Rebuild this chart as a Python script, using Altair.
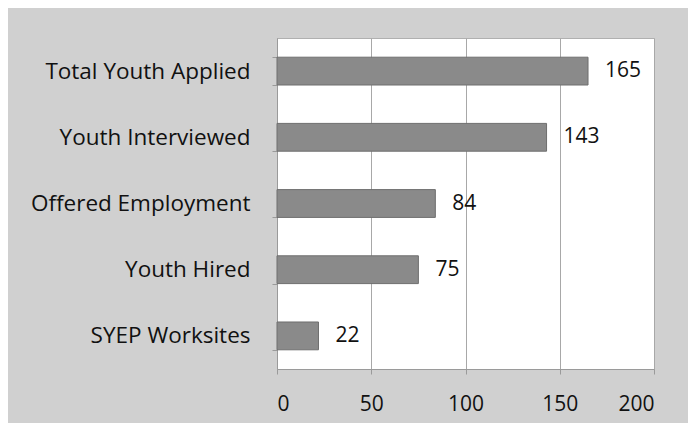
import altair as alt
import pandas as pd

categories = ["Total Youth Applied", "Youth Interviewed", "Offered Employment", "Youth Hired", "SYEP Worksites"]
values = [165, 143, 84, 75, 22]
x_ticks = [0, 50, 100, 150, 200]

df = pd.DataFrame({"category": categories, "value": values})

FONT = "Open Sans"

base = alt.Chart(df).encode(
    y=alt.Y("category:N", sort=categories, title=None,
            scale=alt.Scale(paddingInner=0.58, paddingOuter=0.29),
            axis=alt.Axis(labelFont=FONT, labelFontSize=22.5, labelColor="#111111",
                          labelPadding=22, labelLimit=400, tickBand="extent", tickSize=5,
                          tickColor="#9a9a9a", domainColor="#9a9a9a", grid=False)),
)

bars = base.mark_bar(color="#8a8a8a", stroke="#6e6e6e", strokeWidth=1).encode(
    x=alt.X("value:Q", title=None,
            scale=alt.Scale(domain=[0, 200], nice=False),
            axis=alt.Axis(values=x_ticks, labelFont=FONT, labelFontSize=21,
                          labelColor="#111111", labelPadding=19, tickSize=5,
                          tickColor="#9a9a9a", domainColor="#9a9a9a",
                          grid=True, gridColor="#a8a8a8", gridWidth=1)),
)

labels = base.mark_text(align="left", baseline="middle", dx=17, font=FONT,
                        fontSize=21, color="#111111").encode(
    x=alt.X("value:Q"),
    text=alt.Text("value:Q"),
)

chart = (bars + labels).properties(
    width=377, height=331,
    autosize=alt.AutoSizeParams(type="none"),
    padding={"left": 269, "top": 30, "right": 34, "bottom": 54},
    background="#d0d0d0",
).configure_view(fill="white", stroke="#b0b0b0")

chart.save("out.html", embed_options={"renderer": "svg", "actions": False})
